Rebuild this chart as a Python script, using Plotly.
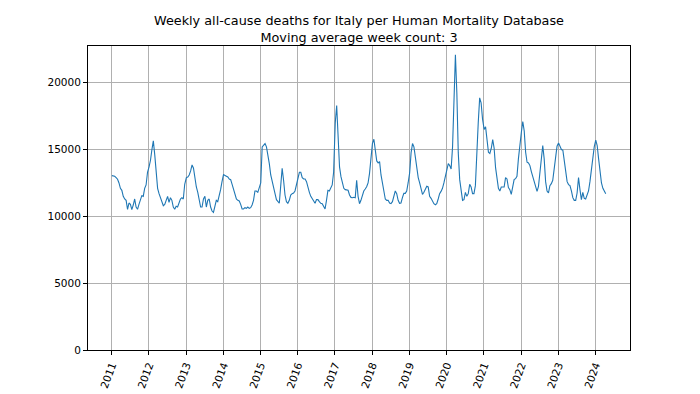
import datetime as dt
import plotly.graph_objects as go

# Moving-average weekly deaths at ~2-week spacing
years = [2011, 2012, 2013, 2014, 2015, 2016, 2017, 2018, 2019, 2020, 2021, 2022, 2023, 2024]

deaths_2011 = [13050, 13050, 13000, 12900, 12780, 12500, 12100, 11950, 11500, 11300, 11200, 10530, 11000,
               10900, 10500, 10850, 11300, 10700, 10530, 10900, 11300, 11550, 11500, 12100, 12350, 13300]
deaths_2012 = [13700, 14200, 15000, 15650, 14600, 13000, 12100, 11700, 11400, 11100, 10800, 10900, 11200,
               11500, 11050, 11400, 11200, 10700, 10530, 10750, 10700, 11000, 11300, 11400, 11300, 12400]
deaths_2013 = [12900, 12950, 13100, 13400, 13850, 13600, 12750, 12200, 11800, 11200, 10700, 10700, 11300,
               11500, 10700, 11200, 11300, 10700, 10400, 10300, 10700, 11200, 11100, 11500, 12000, 12600]
deaths_2014 = [13150, 13050, 13000, 12950, 12800, 12750, 12400, 12000, 11600, 11300, 11200, 11150, 10900,
               10550, 10550, 10650, 10600, 10700, 10600, 10650, 10850, 11200, 11900, 11900, 11800, 12200]
deaths_2015 = [12500, 15200, 15300, 15450, 15200, 14700, 13950, 13100, 12700, 12100, 11700, 11250, 11100,
               10980, 12300, 13600, 12700, 11600, 11100, 10980, 11200, 11600, 11700, 11750, 11900, 12400]
deaths_2016 = [13000, 13300, 13300, 12900, 12800, 12800, 12600, 12100, 11800, 11500, 11300, 11100, 10980,
               11250, 11250, 11100, 10980, 10950, 10750, 10550, 11200, 11950, 11900, 12100, 12350, 13300]
deaths_2017 = [17000, 18300, 16200, 13700, 12970, 12600, 12100, 12000, 11950, 11950, 11600, 11420, 11400,
               11430, 11400, 12700, 11500, 10950, 11200, 11650, 11900, 12050, 12220, 12500, 13200, 14300]
deaths_2018 = [15470, 15770, 14900, 14150, 14000, 14100, 13100, 12400, 11800, 11300, 11200, 11200, 11000,
               10950, 11100, 11500, 11900, 11700, 11200, 10980, 11000, 11400, 11720, 11720, 11900, 12500]
deaths_2019 = [13250, 14750, 15450, 15200, 14300, 13600, 12900, 12500, 12000, 11650, 11800, 12000, 12250,
               12200, 11500, 11350, 11100, 10950, 10870, 10950, 11300, 11700, 11870, 12100, 12500, 13000]
deaths_2020 = [13700, 13950, 13800, 13550, 15200, 19000, 22100, 19250, 14750, 12750, 11700, 11200, 11250,
               11800, 11500, 11700, 12400, 12200, 11700, 11700, 12300, 15100, 17000, 18870, 18500, 17300]
deaths_2021 = [16500, 16700, 15700, 14800, 14700, 15100, 15750, 15100, 13650, 12700, 12100, 11900, 12200,
               12200, 12200, 12900, 12800, 12150, 12000, 11650, 12200, 12750, 12820, 13000, 14300, 15500]
deaths_2022 = [16300, 17100, 16400, 14800, 14050, 14000, 13800, 13350, 12950, 12620, 12250, 11870, 12250,
               13300, 14700, 15300, 14300, 12600, 11900, 11750, 12300, 12450, 12700, 13500, 14500, 15250]
deaths_2023 = [15500, 15200, 15000, 14950, 14250, 13400, 12600, 12380, 12300, 11900, 11400, 11200, 11200,
               11750, 12900, 12000, 11250, 11800, 11350, 11300, 11550, 11900, 12600, 13400, 14500, 15200]
deaths_2024 = [15700, 15300, 14300, 13200, 12500, 12100, 11850, 11700]

yearly = [deaths_2011, deaths_2012, deaths_2013, deaths_2014, deaths_2015, deaths_2016, deaths_2017,
          deaths_2018, deaths_2019, deaths_2020, deaths_2021, deaths_2022, deaths_2023, deaths_2024]

x_dates, y_vals = [], []
for yr, vals in zip(years, yearly):
    for i, v in enumerate(vals):
        x_dates.append(dt.date(yr, 1, 4) + dt.timedelta(days=14 * i))
        y_vals.append(v)

y_ticks = [0, 5000, 10000, 15000, 20000]
x_tick_labels = [str(y) for y in years]
x_tick_vals = [dt.date(y, 1, 1) for y in years]

fig = go.Figure()
fig.add_trace(go.Scatter(x=x_dates, y=y_vals, mode="lines",
                         line=dict(color="#1f77b4", width=1.1), showlegend=False))

axis_common = dict(showline=True, linecolor="black", linewidth=1, mirror=True,
                   ticks="outside", ticklen=4, tickwidth=1, tickcolor="black",
                   showgrid=True, gridcolor="#b0b0b0", gridwidth=0.8, zeroline=False,
                   automargin=False,
                   tickfont=dict(family="DejaVu Sans", size=10.5, color="black"))

fig.update_layout(
    width=700, height=394,
    margin=dict(l=88, r=70, t=46, b=44),
    paper_bgcolor="white", plot_bgcolor="white",
    title=dict(text="Weekly all-cause deaths for Italy per Human Mortality Database<br>Moving average week count: 3",
               x=359 / 700, xanchor="center", xref="container",
               y=1 - 25 / 394, yanchor="middle", yref="container", automargin=False,
               font=dict(family="DejaVu Sans", size=12.8, color="black")),
    xaxis=dict(range=[dt.date(2010, 5, 15), dt.date(2024, 12, 5)], tickvals=x_tick_vals,
               ticktext=x_tick_labels, tickangle=-70, **axis_common),
    yaxis=dict(range=[0, 22750], tickvals=y_ticks, ticktext=[str(t) for t in y_ticks], **axis_common),
)

fig.write_html("out.html", config={"displayModeBar": False},
               post_script="document.body.style.margin='0';document.body.style.overflow='hidden';")
